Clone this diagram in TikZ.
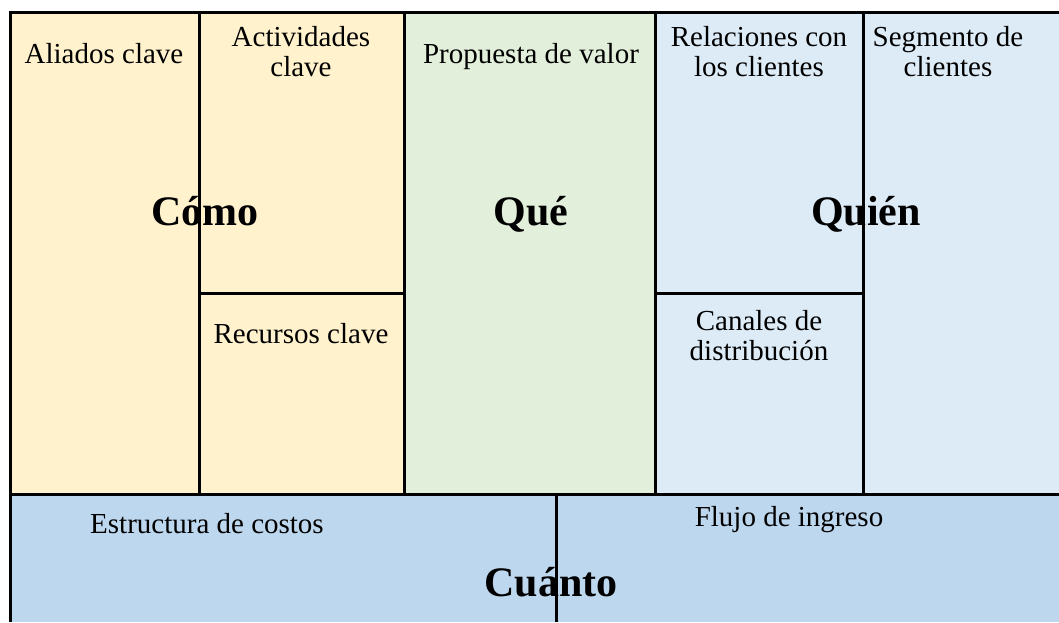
\documentclass[tikz,border=0pt]{standalone}
\usepackage{fontspec}
\setmainfont{Liberation Serif}
\definecolor{cyellow}{HTML}{FFF2CC}
\definecolor{cgreen}{HTML}{E2EFDA}
\definecolor{clblue}{HTML}{DDEBF7}
\definecolor{cblue}{HTML}{BDD7EE}
\begin{document}
\begin{tikzpicture}[x=1pt,y=-1pt,
  grid/.style={line width=3pt,black},
  lbl/.style={anchor=base,align=center,inner sep=0pt,font=\fontsize{29}{30}\selectfont},
  big/.style={anchor=base,inner sep=0pt,font=\fontsize{42}{46}\selectfont\bfseries}]
\useasboundingbox (0,0) rectangle (1059,622);
% fills
\fill[cyellow] (10,12) rectangle (404,494);
\fill[cgreen] (404,12) rectangle (655,494);
\fill[clblue] (655,12) rectangle (1059,494);
\fill[cblue] (10,494) rectangle (1059,622);
% grid lines
\draw[grid] (8.5,12) -- (1059,12);
\draw[grid] (10,12) -- (10,622);
\draw[grid] (10,494) -- (1059,494);
\draw[grid] (199,12) -- (199,494);
\draw[grid] (404,12) -- (404,494);
\draw[grid] (655,12) -- (655,494);
\draw[grid] (863,12) -- (863,494);
\draw[grid] (199,293) -- (404,293);
\draw[grid] (655,293) -- (863,293);
\draw[grid] (556,494) -- (556,622);
% labels
\node[lbl] (aliados) at (104,63) {Aliados clave};
\node[lbl] (activ) at (301,76) {Actividades\\clave};
\node[lbl] (prop) at (531,63) {Propuesta de valor};
\node[lbl] (relac) at (759,76) {Relaciones con\\los clientes};
\node[lbl] (segm) at (948,76) {Segmento de\\clientes};
\node[lbl] (recur) at (301,343) {Recursos clave};
\node[lbl] (canal) at (759,360) {Canales de\\distribución};
\node[lbl,anchor=base west] (estr) at (90,533) {Estructura de costos};
\node[lbl] (flujo) at (789,526) {Flujo de ingreso};
\node[big] (como) at (205,225) {Cómo};
\node[big] (que) at (531,225) {Qué};
\node[big] (quien) at (866,225) {Quién};
\node[big] (cuanto) at (551,596) {Cuánto};
\end{tikzpicture}
\end{document}
